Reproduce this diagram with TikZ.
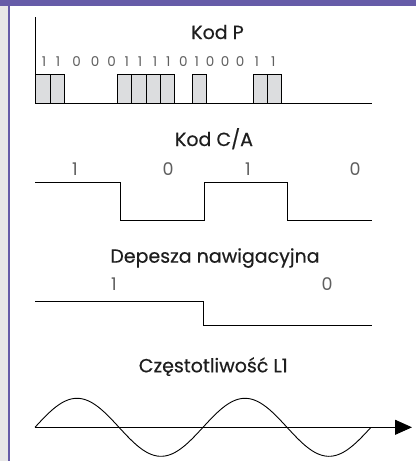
\documentclass[tikz,border=0pt]{standalone}
\usepackage{fontspec}
\setmainfont{Poppins}
\newfontfamily\headfont{Poppins}[FakeBold=0.45]
\usetikzlibrary{arrows.meta}
\definecolor{bandpurple}{RGB}{102,92,168}
\definecolor{cellgray}{RGB}{220,221,223}
\definecolor{inkdark}{RGB}{30,30,30}
\definecolor{digitgray}{RGB}{95,95,95}
\tikzset{
  title/.style={anchor=base, text=inkdark, font=\headfont\fontsize{19}{22}\selectfont, inner sep=0pt},
  bit/.style={anchor=base, text=digitgray, font=\fontsize{17.5}{20}\selectfont, inner sep=0pt},
  smallbit/.style={anchor=base, text=digitgray, font=\fontsize{13.5}{16}\selectfont, inner sep=0pt},
  wave/.style={line width=0.9pt, black},
  cell/.style={draw=black, fill=cellgray, line width=0.8pt},
}
\begin{document}
\begin{tikzpicture}[x=1pt, y=-1pt]
  \useasboundingbox (0,0) rectangle (416,461);
  \fill[white] (0,0) rectangle (416,461);
  % frame: grey margin, purple rule and top band
  \fill[gray!18] (0,0) rectangle (8,461);
  \fill[bandpurple] (8,0) rectangle (9.6,461);
  \fill[bandpurple] (0,0) rectangle (416,5.8);

  % ---- Kod P ----
  \node[title] (tP) at (217.5,39) {Kod P};
  \foreach \a/\b in {35.7/50, 50/64, 117.3/131.7, 131.7/146, 146/160, 160/174,
                     192.7/206.7, 253.3/267.3, 267.3/281.3}
    \filldraw[cell] (\a,74) rectangle (\b,103);
  \draw[wave] (35,17) -- (35,103) -- (372,103);
  \foreach \x/\d [count=\i] in {44/1, 58/1, 76.7/0, 95/0, 111.7/0, 126.7/1, 140/1, 155/1,
                     168.3/1, 183.3/0, 196.7/1, 210/0, 225/0, 240/0, 256.7/1, 273.3/1}
    \node[smallbit] (p\i) at (\x,66) {\d};

  % ---- Kod C/A ----
  \node[title] (tCA) at (214,146) {Kod C/A};
  \node[bit] (ca1) at (75,175.7) {1};
  \node[bit] (ca2) at (168,175.7) {0};
  \node[bit] (ca3) at (248,175.7) {1};
  \node[bit] (ca4) at (355,175.7) {0};
  \draw[wave] (35,182.7) -- (120,182.7) -- (120,220) -- (204,220) -- (204,182.7)
              -- (287.7,182.7) -- (287.7,220) -- (372,220);

  % ---- Depesza nawigacyjna ----
  \node[title] (tD) at (215,262.7) {Depesza nawigacyjna};
  \node[bit] (d1) at (114,290) {1};
  \node[bit] (d2) at (327,290) {0};
  \draw[wave] (35,301) -- (203.7,301) -- (203.7,325) -- (372,325);

  % ---- Czestotliwosc L1 ----
  \node[title] (tL) at (213.3,372.3) {Częstotliwość L1};
  \coordinate (axA) at (35,427.3);
  \coordinate (axB) at (412,427.3);
  \draw[wave, -{Triangle[length=17pt,width=15pt]}] (axA) -- (axB);
  % two full periods of 168pt each, phase in degrees = x * 360/168
  \draw[wave] plot[domain=0:336, samples=160, smooth] (\x+35, {427.3 - 29*sin(\x*2.142857)});
\end{tikzpicture}
\end{document}
